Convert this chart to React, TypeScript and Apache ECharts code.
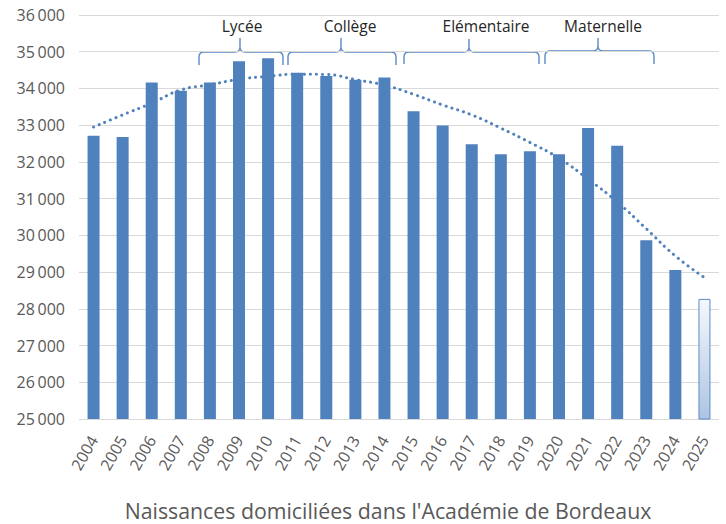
import React, { useEffect, useRef } from "react";
import * as echarts from "echarts";

const years = ["2004","2005","2006","2007","2008","2009","2010","2011","2012","2013","2014","2015","2016","2017","2018","2019","2020","2021","2022","2023","2024","2025"];
const births = [32710, 32680, 34160, 33940, 34160, 34740, 34820, 34430, 34340, 34240, 34300, 33380, 32990, 32480, 32210, 32290, 32210, 32920, 32440, 29870, 29060, 28270];
const trend = [32950, 33280, 33600, 33960, 34100, 34250, 34330, 34390, 34380, 34240, 34090, 33840, 33550, 33280, 32920, 32530, 32100, 31530, 30910, 30180, 29440, 28850];
const yTicks = { min: 25000, max: 36000, step: 1000 };
const braceLabels = ["Lycée", "Collège", "Elémentaire", "Maternelle"];
const chartTitle = "Naissances domiciliées dans l'Académie de Bordeaux";

// brace geometry (pixels): left, tip, right, bottom, line, tipTop, label center
const braceGeom = [
  { x1: 199, xm: 240, x2: 283, yb: 65, yl: 52, yt: 38, tx: 242 },
  { x1: 288, xm: 341, x2: 396, yb: 65, yl: 52, yt: 38, tx: 350 },
  { x1: 404, xm: 469, x2: 539, yb: 64, yl: 52, yt: 39, tx: 486 },
  { x1: 545, xm: 598, x2: 654, yb: 64, yl: 51, yt: 38, tx: 603 },
];

function bracePath(g: any) {
  const r = 5;
  return `M${g.x1},${g.yb} L${g.x1},${g.yl + r} Q${g.x1},${g.yl} ${g.x1 + r},${g.yl} L${g.xm - r},${g.yl} Q${g.xm},${g.yl} ${g.xm},${g.yl - r} L${g.xm},${g.yt} M${g.xm},${g.yl - r} Q${g.xm},${g.yl} ${g.xm + r},${g.yl} L${g.x2 - r},${g.yl} Q${g.x2},${g.yl} ${g.x2},${g.yl + r} L${g.x2},${g.yb}`;
}

braceGeom.forEach((g, i) => {
  echarts.graphic.registerShape("brace" + i, echarts.graphic.extendPath(bracePath(g), {}) as any);
});

export default function App() {
  const ref = useRef<HTMLDivElement>(null);
  useEffect(() => {
    if (!ref.current) return;
    const chart = echarts.init(ref.current, undefined, { renderer: "svg" });
    const font = "'Open Sans', 'Noto Sans', sans-serif";
    const barData = births.map((v, i) =>
      i === births.length - 1
        ? {
            value: v,
            itemStyle: {
              color: new echarts.graphic.LinearGradient(0, 0, 0, 1, [
                { offset: 0, color: "#f5f8fc" },
                { offset: 1, color: "#adc4e2" },
              ]),
              borderColor: "#5b8ac6",
              borderWidth: 1,
            },
          }
        : v
    );
    const graphics: any[] = [];
    braceGeom.forEach((g, i) => {
      graphics.push({
        type: "brace" + i,
        x: 0,
        y: 0,
        style: { fill: "none", stroke: "#5b8ac6", lineWidth: 1.4 },
      });
      graphics.push({
        type: "text",
        x: g.tx,
        y: 26,
        style: {
          text: braceLabels[i],
          fill: "#262626",
          font: `15.5px ${font}`,
          textAlign: "center",
          textVerticalAlign: "middle",
        },
      });
    });
    graphics.push({
      type: "text",
      x: 388,
      y: 510,
      style: {
        text: chartTitle,
        fill: "#595959",
        font: `21.3px ${font}`,
        textAlign: "center",
        textVerticalAlign: "middle",
      },
    });
    chart.setOption({
      animation: false,
      backgroundColor: "#ffffff",
      grid: { left: 79, right: 7, top: 15, bottom: 105, containLabel: false },
      xAxis: {
        type: "category",
        data: years,
        axisLine: { show: false },
        axisTick: { show: false },
        axisLabel: {
          rotate: 60,
          interval: 0,
          color: "#595959",
          fontSize: 16,
          fontFamily: font,
          margin: 18,
        },
      },
      yAxis: {
        type: "value",
        min: yTicks.min,
        max: yTicks.max,
        interval: yTicks.step,
        axisLine: { show: false },
        axisTick: { show: false },
        splitLine: { lineStyle: { color: "#d9d9d9", width: 1 } },
        axisLabel: {
          color: "#595959",
          fontSize: 16,
          fontFamily: font,
          margin: 14,
          formatter: (v: number) => `${Math.floor(v / 1000)}\u2009000`,
        },
      },
      series: [
        {
          type: "bar",
          data: barData,
          barWidth: 12,
          itemStyle: { color: "#4f81bd" },
          z: 2,
        },
        {
          type: "line",
          data: trend,
          smooth: true,
          symbol: "none",
          lineStyle: { color: "#4f81bd", width: 3, type: [0.1, 6], cap: "round" },
          z: 3,
        },
      ],
      graphic: graphics,
    });
    return () => chart.dispose();
  }, []);
  return (
    <div
      ref={ref}
      style={{ position: "fixed", left: 0, top: 0, width: 726, height: 524 }}
    />
  );
}
